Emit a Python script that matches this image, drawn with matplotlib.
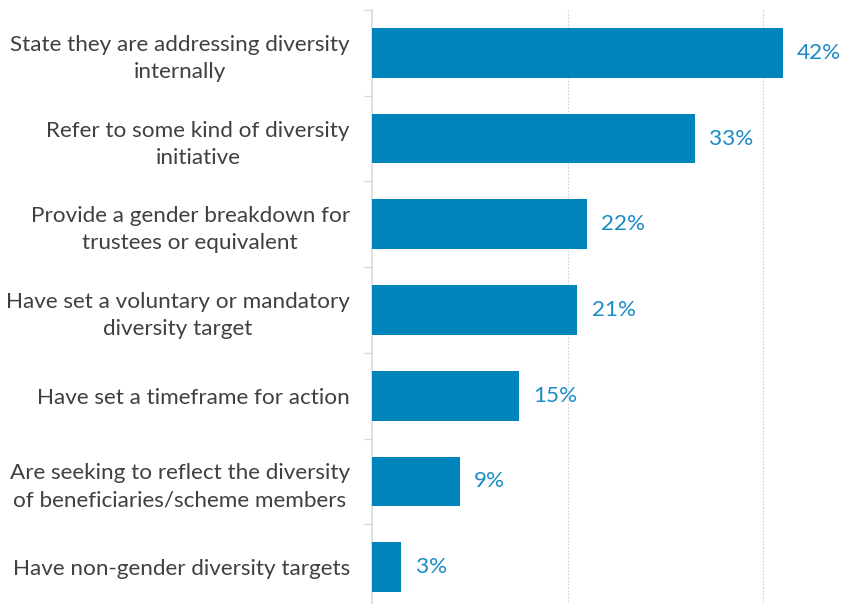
import numpy as np
import matplotlib.pyplot as plt

# categories top to bottom
categories = [
    'State they are addressing diversity\ninternally',
    'Refer to some kind of diversity\ninitiative',
    'Provide a gender breakdown for\ntrustees or equivalent',
    'Have set a voluntary or mandatory\ndiversity target',
    'Have set a timeframe for action',
    'Are seeking to reflect the diversity\nof beneficiaries/scheme members',
    'Have non-gender diversity targets',
]
values = [42, 33, 22, 21, 15, 9, 3]

bar_color = '#0084BC'
label_color = '#1B8BC7'
text_color = '#404040'
plt.rcParams['font.family'] = ['Lato', 'DejaVu Sans']

fig = plt.figure(figsize=(8.56, 6.04), dpi=100)
ax = fig.add_axes([372/856, -6/604, 484/856, 600/604])

y = np.arange(len(categories))
ax.barh(y, values, height=0.58, color=bar_color, zorder=3)
for yi, v in zip(y, values):
    ax.text(v + 1.45, yi, f'{v}%', va='center', ha='left', fontsize=16.2,
            color=label_color)

ax.set_ylim(len(categories) - 0.5, -0.5)
ax.set_xlim(0, 49.5)

ax.set_yticks(y)
ax.set_yticklabels(categories, multialignment='center', fontsize=16.2,
                   color=text_color, linespacing=1.45)
ax.set_yticks(np.arange(len(categories) + 1) - 0.5, minor=True)
ax.tick_params(axis='y', which='major', length=0, pad=16)
ax.tick_params(axis='y', which='minor', length=6, color='#d9d9d9', width=1)

ax.set_xticks([20, 40])
ax.tick_params(axis='x', length=0, labelbottom=False)
ax.grid(axis='x', linestyle=(0, (1.5, 1.5)), color='#d0d0d0', linewidth=0.8)

for s in ['top', 'right', 'bottom']:
    ax.spines[s].set_visible(False)
ax.spines['left'].set_color('#d9d9d9')
ax.spines['left'].set_linewidth(1.2)

fig.savefig('out.png', dpi=100)
